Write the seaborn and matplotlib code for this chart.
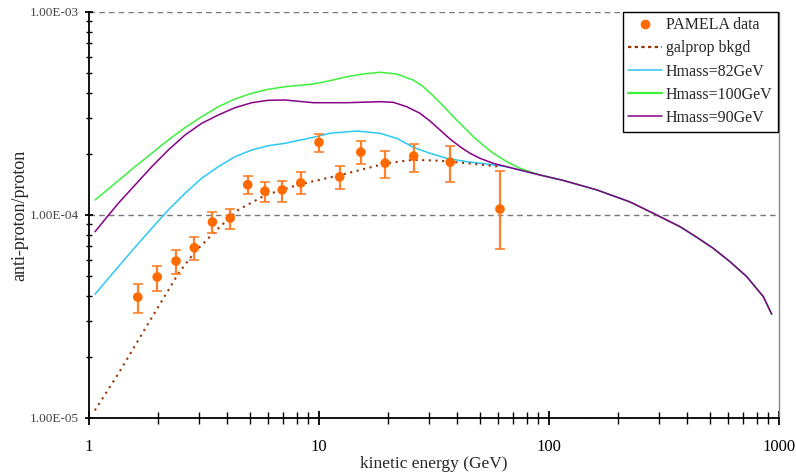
import numpy as np
import pandas as pd
import seaborn as sns
import matplotlib
matplotlib.use("Agg")
import matplotlib.pyplot as plt
from matplotlib.ticker import LogLocator, FuncFormatter, NullFormatter
from matplotlib.lines import Line2D

# PAMELA anti-proton / proton measurements
pamela_e = [1.63, 1.98, 2.39, 2.87, 3.44, 4.11, 4.90, 5.82, 6.92, 8.33,
            10.0, 12.3, 15.2, 19.4, 25.8, 37.2, 61.2]
pamela_ratio = [3.94e-5, 4.95e-5, 5.93e-5, 6.90e-5, 9.24e-5, 9.66e-5, 1.41e-4, 1.31e-4, 1.33e-4, 1.44e-4,
                2.28e-4, 1.54e-4, 2.04e-4, 1.80e-4, 1.95e-4, 1.82e-4, 1.07e-4]
pamela_hi = [4.57e-5, 5.62e-5, 6.73e-5, 7.80e-5, 1.03e-4, 1.07e-4, 1.55e-4, 1.46e-4, 1.47e-4, 1.62e-4,
             2.50e-4, 1.75e-4, 2.32e-4, 2.07e-4, 2.24e-4, 2.19e-4, 1.65e-4]
pamela_lo = [3.30e-5, 4.21e-5, 5.12e-5, 6.03e-5, 8.13e-5, 8.53e-5, 1.27e-4, 1.16e-4, 1.16e-4, 1.27e-4,
             2.04e-4, 1.34e-4, 1.78e-4, 1.53e-4, 1.63e-4, 1.46e-4, 6.82e-5]

# galprop background
bkgd_e = [1.06, 1.34, 1.87, 2.45, 2.89, 3.65, 4.46, 5.82, 8.13, 12.3, 19.7, 25.7, 33.6, 43.9, 61.2]
bkgd = [1.09e-5, 1.65e-5, 3.11e-5, 5.16e-5, 6.60e-5, 8.60e-5, 1.06e-4, 1.25e-4, 1.41e-4, 1.57e-4,
        1.80e-4, 1.87e-4, 1.85e-4, 1.80e-4, 1.73e-4]

# high-energy part shared by all three Higgs-mass curves
tail_e = [115.4, 161.2, 225, 294, 371, 439, 518, 612, 724, 855, 929]
tail = [1.48e-4, 1.33e-4, 1.16e-4, 1.00e-4, 8.76e-5, 7.77e-5, 6.85e-5, 5.89e-5, 4.97e-5, 3.96e-5, 3.25e-5]

h82_e = [1.062, 1.174, 1.341, 1.585, 1.874, 2.212, 2.615, 3.090, 3.650, 4.313, 5.098, 6.021, 7.114,
         9.445, 11.16, 14.58, 18.42, 21.77, 25.70, 30.38, 35.92, 43.87, 53.59, 65.46, 91.40]
h82 = [4.07e-5, 4.66e-5, 5.56e-5, 6.93e-5, 8.60e-5, 1.058e-4, 1.279e-4, 1.517e-4, 1.729e-4, 1.937e-4,
       2.090e-4, 2.195e-4, 2.255e-4, 2.414e-4, 2.526e-4, 2.593e-4, 2.526e-4, 2.386e-4, 2.156e-4,
       2.014e-4, 1.902e-4, 1.831e-4, 1.783e-4, 1.729e-4, 1.574e-4]

h100_e = [1.062, 1.174, 1.341, 1.585, 1.874, 2.212, 2.615, 3.090, 3.650, 4.313, 5.098, 6.021, 7.114,
          9.445, 11.16, 13.20, 15.58, 18.42, 21.77, 25.70, 28.41, 31.41, 34.71, 38.37, 42.41, 46.88,
          51.81, 57.26, 65.46, 74.80, 91.40]
h100 = [1.186e-4, 1.302e-4, 1.476e-4, 1.729e-4, 2.014e-4, 2.342e-4, 2.692e-4, 3.050e-4, 3.416e-4,
        3.727e-4, 3.977e-4, 4.160e-4, 4.285e-4, 4.418e-4, 4.587e-4, 4.800e-4, 4.950e-4, 5.047e-4,
        4.950e-4, 4.624e-4, 4.285e-4, 3.857e-4, 3.443e-4, 3.050e-4, 2.723e-4, 2.430e-4, 2.205e-4,
        2.014e-4, 1.831e-4, 1.698e-4, 1.574e-4]

h90_e = [1.062, 1.174, 1.341, 1.585, 1.874, 2.212, 2.615, 3.090, 3.650, 4.313, 5.098, 6.021, 7.114,
         9.445, 13.20, 18.42, 21.04, 24.06, 27.49, 30.38, 33.58, 37.12, 41.02, 45.35, 50.12, 57.26,
         65.46, 91.40]
h90 = [8.27e-5, 9.52e-5, 1.142e-4, 1.405e-4, 1.729e-4, 2.090e-4, 2.478e-4, 2.829e-4, 3.110e-4,
       3.378e-4, 3.574e-4, 3.673e-4, 3.686e-4, 3.574e-4, 3.574e-4, 3.615e-4, 3.590e-4, 3.416e-4,
       3.170e-4, 2.904e-4, 2.622e-4, 2.368e-4, 2.171e-4, 2.014e-4, 1.902e-4, 1.797e-4, 1.729e-4,
       1.574e-4]

c_data = "#FF6A00"
c_err = "#FF7F2A"
c_bkgd = "#993300"
c_82 = "#2CC8F5"
c_100 = "#3CF03C"
c_90 = "#880088"

sns.set_style("white")
plt.rcParams["font.family"] = ["Liberation Serif", "DejaVu Serif"]

fig = plt.figure(figsize=(7.96, 4.72), dpi=100)
ax = fig.add_axes([89 / 796, 1 - 418 / 472, 690 / 796, 406 / 472])

for e, v, col in [(h82_e, h82, c_82), (h100_e, h100, c_100), (h90_e, h90, c_90)]:
    df = pd.DataFrame({"E": e + tail_e, "ratio": v + tail})
    sns.lineplot(data=df, x="E", y="ratio", ax=ax, color=col, lw=1.1, sort=False, estimator=None)

sns.lineplot(x=bkgd_e, y=bkgd, ax=ax, color=c_bkgd, lw=1.5, linestyle=(0, (1, 2.2)),
             sort=False, estimator=None)

yerr = [np.array(pamela_ratio) - np.array(pamela_lo), np.array(pamela_hi) - np.array(pamela_ratio)]
ax.errorbar(pamela_e, pamela_ratio, yerr=yerr, fmt="none", ecolor=c_err, elinewidth=1.6,
            capsize=3.5, capthick=1.2, zorder=4)
sns.scatterplot(x=pamela_e, y=pamela_ratio, ax=ax, color=c_data, s=48, edgecolor="none", zorder=5)

ax.set_xscale("log")
ax.set_yscale("log")
ax.set_xlim(1, 1000)
ax.set_ylim(1e-5, 1e-3)

ax.xaxis.set_major_locator(LogLocator(base=10, numticks=10))
ax.xaxis.set_minor_locator(LogLocator(base=10, subs=np.arange(2, 10), numticks=20))
ax.xaxis.set_minor_formatter(NullFormatter())
ax.xaxis.set_major_formatter(FuncFormatter(lambda v, p: f"{v:g}"))
ax.yaxis.set_major_locator(LogLocator(base=10, numticks=10))
ax.yaxis.set_minor_locator(LogLocator(base=10, subs=np.arange(2, 10), numticks=20))
ax.yaxis.set_minor_formatter(NullFormatter())
ax.yaxis.set_major_formatter(FuncFormatter(lambda v, p: f"{v:.2E}"))

ax.tick_params(which="both", bottom=True, left=True, top=False, right=False)
ax.tick_params(axis="x", which="major", direction="inout", length=10, width=1.3,
               labelsize=12, pad=10, colors="black")
ax.tick_params(axis="x", which="minor", direction="inout", length=8, width=1.0, color="black")
ax.tick_params(axis="y", which="major", direction="inout", length=6, width=1.3,
               labelsize=9.5, pad=4, labelcolor="#444444", color="black")
ax.tick_params(axis="y", which="minor", direction="inout", length=5, width=1.0, color="black")

ax.yaxis.grid(True, which="major", linestyle=(0, (4, 3)), color="#777777", lw=1.0)
ax.xaxis.grid(False)

ax.spines["top"].set_visible(False)
ax.spines["right"].set_color("#888888")
ax.spines["right"].set_linewidth(1.0)
for s in ["left", "bottom"]:
    ax.spines[s].set_color("black")
    ax.spines[s].set_linewidth(1.3)

ax.set_xlabel("kinetic energy (GeV)", fontsize=12.5, labelpad=1)
ax.set_ylabel("anti-proton/proton", fontsize=13, labelpad=1)

handles = [
    Line2D([], [], marker="o", color=c_data, ls="none", markersize=6),
    Line2D([], [], color=c_bkgd, lw=1.6, linestyle=(0, (1.5, 1.5))),
    Line2D([], [], color=c_82, lw=1.1),
    Line2D([], [], color=c_100, lw=1.6),
    Line2D([], [], color=c_90, lw=1.1),
]
labels = ["PAMELA data", "galprop bkgd", "Hmass=82GeV", "Hmass=100GeV", "Hmass=90GeV"]
leg = ax.legend(handles, labels, loc="upper right", bbox_to_anchor=(778 / 796, 1 - 11.7 / 472),
                bbox_transform=fig.transFigure, borderaxespad=0, frameon=True, fancybox=False,
                edgecolor="black", framealpha=1, fontsize=11.5, handlelength=2.1,
                handletextpad=0.25, labelspacing=0.45, borderpad=0.35)
leg.get_frame().set_linewidth(1.0)

fig.savefig("out.png", dpi=100)
